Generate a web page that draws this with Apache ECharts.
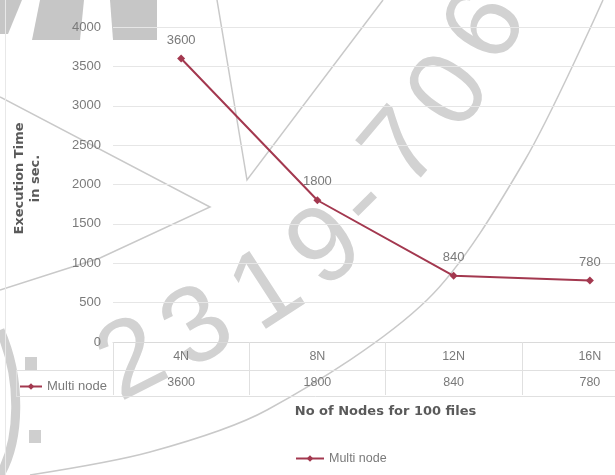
<!DOCTYPE html>
<html>
<head>
<meta charset="utf-8">
<script src="https://cdn.jsdelivr.net/npm/echarts@6/dist/echarts.min.js"></script>
<style>
  html, body { margin: 0; padding: 0; background: #fff; }
  #chart { width: 615px; height: 475px; }
</style>
</head>
<body>
<div id="chart"></div>
<script>
// Execution time of the multi-node run for 100 files
const categories = ['4N', '8N', '12N', '16N'];
const multiNode = [3600, 1800, 840, 780];
const seriesName = 'Multi node';
const yTicks = [0, 500, 1000, 1500, 2000, 2500, 3000, 3500, 4000];

const lineColor = '#a3384f';
const textGrey = '#7a7a7a';
const titleGrey = '#5a5a5a';
const gridGrey = '#e6e6e6';
const tableGrey = '#e0e0e0';
const font = 'Liberation Sans';
const boldFont = 'DejaVu Sans';

// Seal stamp in the background: rotated digits and thin outline strokes
const stampColor = '#d2d2d2';
const stampGlyphs = [
  { ch: '2', x: 133, y: 362, deg: 27 },
  { ch: '3', x: 199, y: 330, deg: 31 },
  { ch: '1', x: 268, y: 292, deg: 33 },
  { ch: '9', x: 327, y: 249, deg: 38 },
  { ch: '-', x: 364, y: 203, deg: 45 },
  { ch: '7', x: 405, y: 150, deg: 50 },
  { ch: '0', x: 452, y: 93, deg: 55 },
  { ch: '6', x: 488, y: 27, deg: 60 }
];
const stampGraphics = stampGlyphs.map(g => ({
  type: 'text',
  silent: true,
  z: -10,
  x: g.x,
  y: g.y,
  rotation: g.deg * Math.PI / 180,
  style: {
    text: g.ch,
    font: '108px "Liberation Sans"',
    fill: stampColor,
    align: 'center',
    verticalAlign: 'middle'
  }
}));
const stampStroke = { stroke: '#c9c9c9', lineWidth: 1.5, fill: null };
stampGraphics.push(
  { type: 'polyline', silent: true, z: -10, shape: { points: [[0, 97], [210, 207], [100, 258], [0, 290]] }, style: stampStroke },
  { type: 'polyline', silent: true, z: -10, shape: { points: [[217, 0], [247, 180], [383, 0]] }, style: stampStroke },
  { type: 'polyline', silent: true, z: -10, shape: { points: [[603, 0], [525, 160], [427, 300], [267, 410], [150, 452], [30, 475]], smooth: 0.3 }, style: stampStroke },
  // dark blocks along the top edge and the colon on the left
  { type: 'polygon', silent: true, z: -10, shape: { points: [[0, 0], [22, 0], [8, 34], [0, 34]] }, style: { fill: '#c6c6c6' } },
  { type: 'polygon', silent: true, z: -10, shape: { points: [[40, 0], [84, 0], [80, 40], [32, 40]] }, style: { fill: '#c6c6c6' } },
  { type: 'polygon', silent: true, z: -10, shape: { points: [[110, 0], [157, 0], [157, 40], [113, 40]] }, style: { fill: '#c6c6c6' } },
  { type: 'rect', silent: true, z: -10, shape: { x: 25, y: 357, width: 12, height: 13 }, style: { fill: '#cfcfcf' } },
  { type: 'rect', silent: true, z: -10, shape: { x: 29, y: 430, width: 12, height: 13 }, style: { fill: '#cfcfcf' } },
  { type: 'bezierCurve', silent: true, z: -10, shape: { x1: 0, y1: 330, x2: 0, y2: 475, cpx1: 22, cpy1: 380, cpx2: 20, cpy2: 440 }, style: { stroke: '#cfcfcf', lineWidth: 9, fill: null } }
);

const chart = echarts.init(document.getElementById('chart'), null, { renderer: 'canvas' });

chart.setOption({
  backgroundColor: '#ffffff',
  animation: false,
  textStyle: { fontFamily: font },
  grid: { left: 113, top: 27, right: -43, height: 315, containLabel: false, outerBoundsMode: 'none' },
  legend: [
    {
      data: [seriesName],
      left: 290,
      top: 447,
      itemWidth: 28,
      itemHeight: 8,
      textStyle: { color: textGrey, fontSize: 12.5, fontFamily: font }
    },
    {
      data: [seriesName],
      left: 14,
      top: 375,
      itemWidth: 22,
      itemHeight: 8,
      textStyle: { color: textGrey, fontSize: 13, fontFamily: font }
    }
  ],
  xAxis: {
    type: 'category',
    data: categories,
    boundaryGap: true,
    name: 'No of Nodes for 100 files',
    nameLocation: 'middle',
    nameGap: 63,
    nameTextStyle: { color: titleGrey, fontSize: 13, fontWeight: 'bold', fontFamily: boldFont },
    axisLine: { show: true, lineStyle: { color: '#dadada', width: 1 } },
    axisTick: { show: true, length: 53, lineStyle: { color: tableGrey } },
    axisLabel: {
      margin: 0,
      interval: 0,
      formatter: (value, idx) => '{c|' + value + '}\n{v|' + multiNode[idx] + '}',
      rich: {
        c: { color: textGrey, fontSize: 12.5, lineHeight: 27, padding: [2, 0, 0, 0], fontFamily: font },
        v: { color: textGrey, fontSize: 12.5, lineHeight: 27, fontFamily: font }
      }
    }
  },
  yAxis: {
    type: 'value',
    min: yTicks[0],
    max: yTicks[yTicks.length - 1],
    interval: yTicks[1] - yTicks[0],
    name: 'Execution Time\nin sec.',
    nameLocation: 'middle',
    nameRotate: 90,
    nameGap: 69,
    nameTextStyle: { color: titleGrey, fontSize: 13, fontWeight: 'bold', lineHeight: 16, padding: [0, 0, 0, 12], fontFamily: boldFont },
    axisLine: { show: false },
    axisTick: { show: false },
    axisLabel: { color: textGrey, fontSize: 13, margin: 12, fontFamily: font, formatter: v => String(v) },
    splitLine: { lineStyle: { color: gridGrey, width: 1 } }
  },
  series: [
    {
      name: seriesName,
      type: 'line',
      data: multiNode,
      symbol: 'diamond',
      symbolSize: 8,
      itemStyle: { color: lineColor },
      lineStyle: { color: lineColor, width: 2 },
      label: {
        show: true,
        position: 'top',
        distance: 8,
        color: textGrey,
        fontSize: 13,
        fontFamily: font
      },
      z: 5
    }
  ],
  graphic: stampGraphics.concat([
    // data table row borders
    { type: 'line', silent: true, shape: { x1: 16, y1: 370.5, x2: 615, y2: 370.5 }, style: { stroke: tableGrey, lineWidth: 1 } },
    { type: 'line', silent: true, shape: { x1: 16, y1: 396.5, x2: 615, y2: 396.5 }, style: { stroke: tableGrey, lineWidth: 1 } },
    { type: 'line', silent: true, shape: { x1: 16.5, y1: 370, x2: 16.5, y2: 397 }, style: { stroke: tableGrey, lineWidth: 1 } },
    // chart area border
    { type: 'line', silent: true, shape: { x1: 5.5, y1: 0, x2: 5.5, y2: 475 }, style: { stroke: '#e8e8e8', lineWidth: 1 } }
  ])
});
</script>
</body>
</html>
